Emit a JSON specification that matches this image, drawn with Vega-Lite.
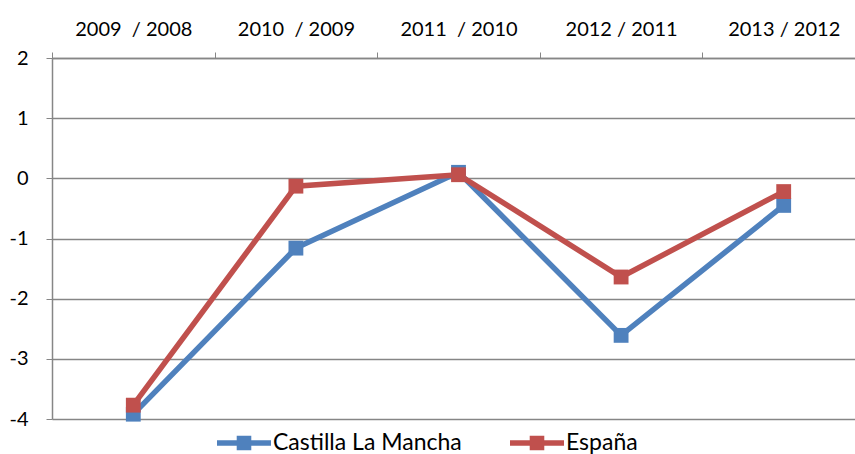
{
  "$schema": "https://vega.github.io/schema/vega-lite/v6.json",
  "width": 813,
  "height": 361,
  "autosize": {"type": "none"},
  "padding": {"left": 52, "top": 58, "right": -10, "bottom": 35},
  "background": "white",
  "config": {
    "font": "Lato",
    "view": {"stroke": null}
  },
  "data": {
    "values": [
      {"periodo": "2009 \u00a0/ 2008", "serie": "Castilla La Mancha", "valor": -3.92},
      {"periodo": "2010 \u00a0/ 2009", "serie": "Castilla La Mancha", "valor": -1.16},
      {"periodo": "2011 \u00a0/ 2010", "serie": "Castilla La Mancha", "valor": 0.1},
      {"periodo": "2012 / 2011", "serie": "Castilla La Mancha", "valor": -2.61},
      {"periodo": "2013 / 2012", "serie": "Castilla La Mancha", "valor": -0.45},
      {"periodo": "2009 \u00a0/ 2008", "serie": "España", "valor": -3.77},
      {"periodo": "2010 \u00a0/ 2009", "serie": "España", "valor": -0.13},
      {"periodo": "2011 \u00a0/ 2010", "serie": "España", "valor": 0.06},
      {"periodo": "2012 / 2011", "serie": "España", "valor": -1.64},
      {"periodo": "2013 / 2012", "serie": "España", "valor": -0.22}
    ]
  },
  "encoding": {
    "x": {
      "field": "periodo",
      "type": "nominal",
      "sort": null,
      "scale": {"paddingInner": 0, "paddingOuter": 0},
      "axis": {
        "orient": "top",
        "title": null,
        "labelAngle": 0,
        "labelFontSize": 20,
        "labelColor": "#000000",
        "labelPadding": 13,
        "tickBand": "extent",
        "tickColor": "#868686",
        "tickSize": 6,
        "domainColor": "#868686",
        "domainWidth": 1.5,
        "grid": false
      }
    },
    "y": {
      "field": "valor",
      "type": "quantitative",
      "scale": {"domain": [-4, 2], "nice": false, "zero": false},
      "axis": {
        "title": null,
        "values": [-4, -3, -2, -1, 0, 1, 2],
        "labelExpr": "replace(datum.label, '\u2212', '-')",
        "labelFontSize": 20,
        "labelColor": "#000000",
        "labelPadding": 18,
        "tickColor": "#868686",
        "tickSize": 6,
        "domainColor": "#868686",
        "domainWidth": 1.5,
        "grid": true,
        "gridColor": "#868686",
        "gridWidth": 1.5,
        "gridOpacity": 1
      }
    },
    "color": {
      "field": "serie",
      "type": "nominal",
      "scale": {"domain": ["Castilla La Mancha", "España"], "range": ["#4F81BD", "#C0504D"]},
      "legend": {
        "orient": "none",
        "legendX": 165,
        "legendY": 358,
        "direction": "horizontal",
        "title": null,
        "labelFontSize": 23,
        "labelLimit": 400,
        "labelColor": "#000000",
        "labelOffset": 2,
        "columnPadding": 48,
        "symbolType": "M-1,-0.1H1V0.1H-1Z M-0.27,-0.27H0.27V0.27H-0.27Z",
        "symbolSize": 2916,
        "symbolStrokeWidth": 0,
        "symbolOpacity": 1
      }
    }
  },
  "layer": [
    {"mark": {"type": "line", "strokeWidth": 5.5}},
    {"mark": {"type": "point", "shape": "square", "filled": true, "size": 220, "opacity": 1}}
  ]
}
